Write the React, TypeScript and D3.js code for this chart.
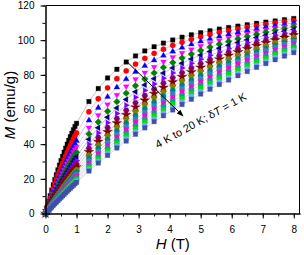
import React, { useEffect, useRef } from "react";
import * as d3 from "d3";

// applied field (T)
const fields = [
  0, 0.05, 0.1, 0.15, 0.2, 0.25, 0.3, 0.35, 0.4, 0.45, 0.5, 0.55, 0.6, 0.65, 0.7, 0.75, 0.8, 0.85, 0.9, 0.95, 1.0,
  1.4, 1.7, 2.0, 2.3, 2.6, 2.9, 3.2, 3.5, 3.8, 4.1, 4.4, 4.7, 5.0, 5.3, 5.6, 5.9, 6.2, 6.5, 6.8, 7.1, 7.4, 7.7, 8.0,
];

// magnetization (emu/g), one list per temperature
const m4K = [0, 3.6, 7.0, 10.3, 13.5, 16.6, 19.6, 22.4, 25.2, 27.9, 30.5, 33.0, 35.4, 37.7, 40.0, 42.2, 44.3, 46.3, 48.3, 50.2, 52.0,
  64.6, 72.1, 78.2, 83.2, 87.4, 90.9, 93.8, 96.2, 98.3, 100.1, 101.7, 103.1, 104.3, 105.4, 106.4, 107.3, 108.1, 108.9, 109.7, 110.4, 111.1, 111.8, 112.5];
const m5K = [0, 3.0, 6.0, 8.8, 11.6, 14.3, 16.9, 19.5, 22.0, 24.4, 26.7, 28.9, 31.1, 33.2, 35.3, 37.3, 39.3, 41.2, 43.0, 44.8, 46.5,
  58.7, 66.2, 72.5, 77.8, 82.3, 86.2, 89.5, 92.4, 94.8, 97.0, 98.8, 100.5, 102.0, 103.3, 104.5, 105.5, 106.5, 107.5, 108.3, 109.1, 109.9, 110.6, 111.3];
const m6K = [0, 2.7, 5.2, 7.8, 10.2, 12.6, 14.9, 17.2, 19.4, 21.6, 23.7, 25.7, 27.7, 29.7, 31.6, 33.4, 35.2, 37.0, 38.7, 40.3, 42.0,
  53.7, 61.0, 67.3, 72.8, 77.5, 81.7, 85.2, 88.4, 91.1, 93.5, 95.7, 97.6, 99.3, 100.8, 102.2, 103.4, 104.6, 105.7, 106.6, 107.6, 108.4, 109.2, 110.0];
const m7K = [0, 2.4, 4.7, 6.9, 9.1, 11.3, 13.4, 15.5, 17.5, 19.4, 21.4, 23.3, 25.1, 26.9, 28.7, 30.4, 32.0, 33.7, 35.3, 36.9, 38.4,
  49.5, 56.7, 62.9, 68.4, 73.3, 77.5, 81.3, 84.6, 87.6, 90.2, 92.6, 94.7, 96.6, 98.3, 99.9, 101.3, 102.6, 103.8, 104.9, 105.9, 106.9, 107.8, 108.7];
const m8K = [0, 2.1, 4.2, 6.2, 8.3, 10.2, 12.1, 14.0, 15.9, 17.7, 19.4, 21.2, 22.9, 24.5, 26.2, 27.8, 29.4, 30.9, 32.4, 33.9, 35.3,
  45.9, 52.8, 59.0, 64.5, 69.4, 73.7, 77.6, 81.1, 84.3, 87.1, 89.7, 92.0, 94.1, 96.0, 97.7, 99.3, 100.8, 102.2, 103.4, 104.6, 105.7, 106.7, 107.7];
const m9K = [0, 1.9, 3.8, 5.7, 7.5, 9.3, 11.1, 12.8, 14.5, 16.2, 17.9, 19.5, 21.0, 22.6, 24.1, 25.6, 27.1, 28.5, 30.0, 31.4, 32.7,
  42.8, 49.5, 55.5, 60.9, 65.8, 70.2, 74.2, 77.8, 81.0, 84.0, 86.7, 89.2, 91.4, 93.5, 95.4, 97.1, 98.7, 100.2, 101.6, 102.8, 104.0, 105.2, 106.2];
const m10K = [0, 1.8, 3.5, 5.2, 6.9, 8.6, 10.2, 11.8, 13.4, 14.9, 16.4, 17.9, 19.4, 20.9, 22.3, 23.7, 25.1, 26.5, 27.8, 29.1, 30.4,
  40.0, 46.5, 52.4, 57.7, 62.5, 67.0, 71.0, 74.7, 78.0, 81.1, 84.0, 86.6, 89.0, 91.2, 93.2, 95.1, 96.8, 98.5, 100.0, 101.4, 102.8, 104.0, 105.2];
const m11K = [0, 1.6, 3.2, 4.8, 6.4, 7.9, 9.4, 10.9, 12.4, 13.8, 15.3, 16.7, 18.0, 19.4, 20.7, 22.1, 23.4, 24.6, 25.9, 27.1, 28.4,
  37.6, 43.8, 49.5, 54.7, 59.5, 63.9, 68.0, 71.7, 75.2, 78.3, 81.2, 84.0, 86.5, 88.8, 91.0, 93.0, 94.9, 96.6, 98.3, 99.8, 101.3, 102.6, 103.9];
const m12K = [0, 1.5, 3.0, 4.5, 5.9, 7.4, 8.8, 10.2, 11.6, 12.9, 14.3, 15.6, 16.9, 18.2, 19.4, 20.7, 21.9, 23.1, 24.3, 25.5, 26.7,
  35.5, 41.5, 47.1, 52.2, 56.9, 61.3, 65.3, 69.1, 72.6, 75.8, 78.8, 81.6, 84.2, 86.7, 89.0, 91.1, 93.1, 95.0, 96.7, 98.4, 100.0, 101.5, 102.9];
const m13K = [0, 1.4, 2.8, 4.2, 5.6, 6.9, 8.2, 9.6, 10.9, 12.1, 13.4, 14.7, 15.9, 17.1, 18.3, 19.5, 20.7, 21.8, 23.0, 24.1, 25.2,
  33.6, 39.4, 44.8, 49.8, 54.5, 58.8, 62.8, 66.6, 70.1, 73.4, 76.4, 79.3, 82.0, 84.5, 86.9, 89.1, 91.2, 93.2, 95.0, 96.8, 98.5, 100.0, 101.6];
const m14K = [0, 1.3, 2.6, 3.9, 5.2, 6.5, 7.7, 9.0, 10.2, 11.4, 12.6, 13.8, 15.0, 16.1, 17.2, 18.4, 19.5, 20.6, 21.7, 22.8, 23.8,
  31.9, 37.5, 42.7, 47.6, 52.1, 56.4, 60.4, 64.1, 67.7, 71.0, 74.1, 77.0, 79.7, 82.3, 84.8, 87.1, 89.2, 91.3, 93.3, 95.1, 96.9, 98.5, 100.1];
const m15K = [0, 1.2, 2.5, 3.7, 4.9, 6.1, 7.3, 8.5, 9.6, 10.8, 11.9, 13.0, 14.1, 15.2, 16.3, 17.4, 18.5, 19.5, 20.5, 21.6, 22.6,
  30.4, 35.8, 40.9, 45.6, 50.1, 54.3, 58.3, 62.1, 65.6, 68.9, 72.1, 75.0, 77.8, 80.5, 83.0, 85.4, 87.6, 89.8, 91.8, 93.8, 95.7, 97.4, 99.1];
const m16K = [0, 1.2, 2.3, 3.5, 4.6, 5.8, 6.9, 8.0, 9.1, 10.2, 11.3, 12.4, 13.4, 14.5, 15.5, 16.5, 17.5, 18.6, 19.5, 20.5, 21.5,
  29.0, 34.2, 39.1, 43.8, 48.2, 52.4, 56.3, 60.0, 63.5, 66.9, 70.0, 73.0, 75.9, 78.6, 81.2, 83.6, 86.0, 88.2, 90.3, 92.3, 94.3, 96.1, 97.9];
const m17K = [0, 1.1, 2.2, 3.3, 4.4, 5.5, 6.6, 7.6, 8.7, 9.7, 10.7, 11.8, 12.8, 13.8, 14.8, 15.8, 16.7, 17.7, 18.6, 19.6, 20.5,
  27.7, 32.8, 37.6, 42.1, 46.4, 50.5, 54.4, 58.1, 61.6, 64.9, 68.1, 71.1, 74.0, 76.7, 79.3, 81.8, 84.2, 86.5, 88.7, 90.7, 92.7, 94.7, 96.5];
const m18K = [0, 1.1, 2.1, 3.2, 4.2, 5.2, 6.2, 7.3, 8.2, 9.3, 10.2, 11.2, 12.2, 13.1, 14.1, 15.0, 15.9, 16.9, 17.8, 18.7, 19.6,
  26.5, 31.5, 36.1, 40.6, 44.8, 48.8, 52.7, 56.3, 59.8, 63.1, 66.3, 69.3, 72.3, 75.0, 77.7, 80.2, 82.7, 85.0, 87.3, 89.4, 91.5, 93.5, 95.4];
const m19K = [0, 1.0, 2.0, 3.0, 4.0, 5.0, 5.9, 6.9, 7.8, 8.8, 9.7, 10.6, 11.6, 12.5, 13.4, 14.3, 15.2, 16.1, 16.9, 17.8, 18.7,
  25.4, 30.1, 34.7, 39.0, 43.1, 47.1, 50.8, 54.5, 57.9, 61.2, 64.4, 67.4, 70.3, 73.1, 75.8, 78.4, 80.9, 83.3, 85.6, 87.8, 89.9, 92.0, 93.9];
const m20K = [0, 1.0, 1.9, 2.9, 3.8, 4.8, 5.7, 6.6, 7.5, 8.4, 9.3, 10.2, 11.1, 12.0, 12.9, 13.8, 14.6, 15.5, 16.3, 17.2, 18.0,
  24.5, 29.1, 33.5, 37.8, 41.8, 45.7, 49.4, 53.0, 56.4, 59.7, 62.9, 65.9, 68.9, 71.7, 74.4, 77.0, 79.5, 81.9, 84.3, 86.5, 88.7, 90.8, 92.8];

const seriesValues = [m4K, m5K, m6K, m7K, m8K, m9K, m10K, m11K, m12K, m13K, m14K, m15K, m16K, m17K, m18K, m19K, m20K];

const colors = ["#000000", "#FF0000", "#0000FF", "#FF00FF", "#008000", "#000080", "#8000FF", "#800080", "#800000", "#808000", "#008080", "#3F7FBF", "#FF00CC", "#1E90A0", "#00E000", "#6FA8FF", "#4050A8"];
const shapes = ["square", "circle", "triUp", "triDown", "diamond", "triLeft", "triRight", "hexagon", "star", "pentagon", "circle", "circle", "square", "circle", "circle", "circle", "square"];

const xTicks = [0, 1, 2, 3, 4, 5, 6, 7, 8];
const yTicks = [0, 20, 40, 60, 80, 100, 120];

const FONT = "Arial, 'Liberation Sans', sans-serif";

const poly = (n, r, rot) => {
  const pts = d3.range(n).map(i => {
    const a = rot + (i * 2 * Math.PI) / n;
    return [r * Math.cos(a), r * Math.sin(a)];
  });
  return "M" + pts.map(p => p[0].toFixed(2) + "," + p[1].toFixed(2)).join("L") + "Z";
};

const shapePath = shape => {
  switch (shape) {
    case "square": return poly(4, 3.2, Math.PI / 4);
    case "triUp": return poly(3, 3.4, -Math.PI / 2);
    case "triDown": return poly(3, 3.4, Math.PI / 2);
    case "triLeft": return poly(3, 3.4, Math.PI);
    case "triRight": return poly(3, 3.4, 0);
    case "diamond": return poly(4, 3.4, 0);
    case "hexagon": return poly(6, 3.0, 0);
    case "pentagon": return poly(5, 3.1, -Math.PI / 2);
    case "star": return d3.symbol(d3.symbolStar, 30)();
    default: return d3.symbol(d3.symbolCircle, 22)();
  }
};

const App = () => {
  const xAxisRef = useRef(null);
  const yAxisRef = useRef(null);

  const x = d3.scaleLinear().domain([0, 8.2]).range([45.5, 300]);
  const y = d3.scaleLinear().domain([0, 120]).range([213.5, 5.5]);

  useEffect(() => {
    const gx = d3.select(xAxisRef.current);
    gx.selectAll("*").remove();
    gx.append("g")
      .call(d3.axisBottom(x).tickValues(d3.range(0, 8.01, 0.5)).tickSize(3).tickFormat(() => "").tickSizeOuter(0));
    gx.append("g")
      .call(d3.axisBottom(x).tickValues(xTicks).tickSize(5).tickPadding(7).tickSizeOuter(0));

    const gy = d3.select(yAxisRef.current);
    gy.selectAll("*").remove();
    gy.append("g")
      .call(d3.axisLeft(y).tickValues(d3.range(0, 121, 10)).tickSize(3).tickFormat(() => "").tickSizeOuter(0));
    gy.append("g")
      .call(d3.axisLeft(y).tickValues(yTicks).tickSize(5).tickPadding(6).tickSizeOuter(0));

    [gx, gy].forEach(g => {
      g.selectAll("text").attr("font-size", 10).attr("font-family", FONT).attr("fill", "#000");
      g.selectAll("path, line").attr("stroke", "#000").attr("stroke-width", 1);
      g.selectAll("g").attr("font-family", FONT);
    });
  }, []);

  const line = d3.line()
    .x((d, i) => x(fields[i]))
    .y(d => y(d));

  // arrow across the family of curves
  const arrowStart = [x(2.6), y(88)];
  const arrowEnd = [x(4.45), y(56)];
  const ang = Math.atan2(arrowEnd[1] - arrowStart[1], arrowEnd[0] - arrowStart[0]);
  const headLen = 7, headW = 2.6;
  const hx = arrowEnd[0] - headLen * Math.cos(ang), hy = arrowEnd[1] - headLen * Math.sin(ang);
  const head = [
    arrowEnd,
    [hx + headW * Math.sin(ang), hy - headW * Math.cos(ang)],
    [hx - headW * Math.sin(ang), hy + headW * Math.cos(ang)],
  ];

  return (
    <svg width={304} height={255} style={{ position: "absolute", left: 0, top: 0, background: "#fff" }}>
      <g>
        {seriesValues.map((vals, i) => (
          <g key={"s" + i}>
            <path d={line(vals)} fill="none" stroke={colors[i]} strokeOpacity={0.35} strokeWidth={0.7} />
            {vals.map((v, j) => (
              <path
                key={j}
                d={shapePath(shapes[i])}
                transform={`translate(${x(fields[j])},${y(v)})`}
                fill={colors[i]}
                stroke={colors[i]}
                strokeWidth={0.3}
              />
            ))}
          </g>
        ))}
      </g>

      {/* frame */}
      <line x1={45.5} x2={299.5} y1={5.5} y2={5.5} stroke="#000" strokeWidth={1} />
      <line x1={299.5} x2={299.5} y1={5.5} y2={213.5} stroke="#000" strokeWidth={1} />

      <g ref={xAxisRef} transform="translate(0,213.5)" />
      <g ref={yAxisRef} transform="translate(45.5,0)" />

      {/* annotation */}
      <line x1={arrowStart[0]} y1={arrowStart[1]} x2={hx} y2={hy} stroke="#000" strokeWidth={1} />
      <polygon points={head.map(p => p.join(",")).join(" ")} fill="#000" />
      <text
        transform={`translate(${x(3.62)},${y(37.5)}) rotate(-29)`}
        fontFamily={FONT}
        fontSize={11}
        fill="#000"
      >
        4 K to 20 K; δ<tspan fontStyle="italic">T</tspan> = 1 K
      </text>

      {/* axis titles */}
      <text x={(45.5 + 300) / 2} y={249} textAnchor="middle" fontFamily={FONT} fontSize={15} fill="#000">
        <tspan fontStyle="italic">H</tspan> (T)
      </text>
      <text
        transform="translate(15,105) rotate(-90)"
        textAnchor="middle"
        fontFamily={FONT}
        fontSize={15}
        fill="#000"
      >
        <tspan fontStyle="italic">M</tspan> (emu/g)
      </text>
    </svg>
  );
};

export default App;
